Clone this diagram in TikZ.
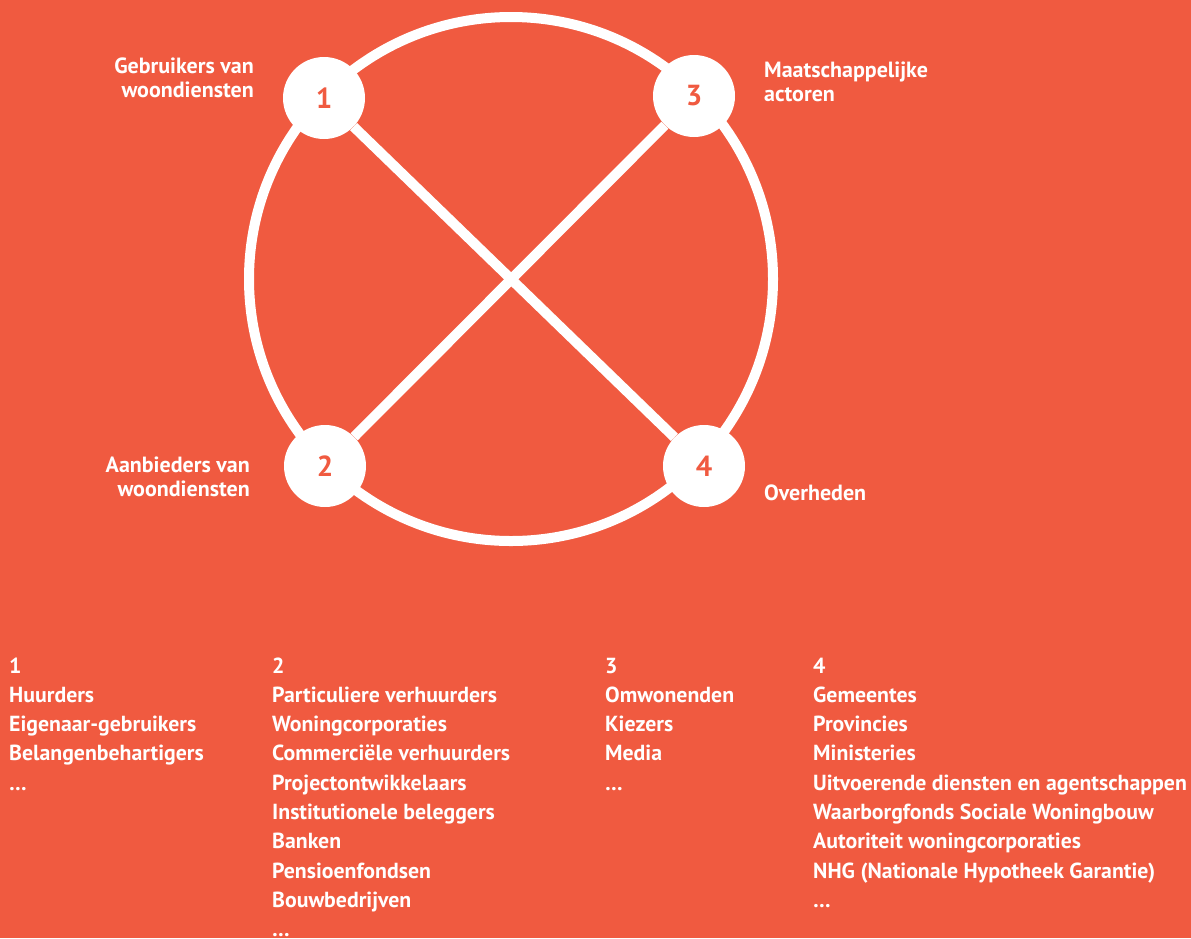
\documentclass[tikz,border=0pt]{standalone}
\usepackage{fontspec}
\setmainfont{PT Sans}
\definecolor{bg}{RGB}{240,90,64}
\begin{document}
\begin{tikzpicture}[x=1pt,y=-1pt,
  num/.style={circle, fill=white, minimum size=82pt, inner sep=0pt, text=bg, font=\fontsize{29}{30}\selectfont\bfseries},
  lbl/.style={text=white, font=\fontsize{22}{24}\selectfont\bfseries, inner sep=0pt},
  lst/.style={text=white, font=\fontsize{21.8}{29.3}\selectfont\bfseries, inner sep=0pt, align=left, anchor=base west},
  ring/.style={draw=white, line width=10pt},
  link/.style={draw=white, line width=10pt}]
\fill[bg] (0,0) rectangle (1191,938);
\useasboundingbox (0,0) rectangle (1191,938);
\draw[ring] (511,279) circle[radius=262pt];
\node[num] (n1) at (324,98) {1};
\node[num] (n3) at (694,96) {3};
\node[num] (n2) at (325,466) {2};
\node[num] (n4) at (704,466) {4};
\draw[link] (n1) -- (n4);
\draw[link] (n3) -- (n2);
\node[lbl, align=right, anchor=base east] (l1) at (254,97) {Gebruikers van\\woondiensten};
\node[lbl, align=left, anchor=base west] (l3) at (764,101) {Maatschappelijke\\actoren};
\node[lbl, align=right, anchor=base east] (l2) at (250,496) {Aanbieders van\\woondiensten};
\node[lbl, align=left, anchor=base west] (l4) at (764,500) {Overheden};
\node[lst] (c1) at (9,790.2) {1\\Huurders\\Eigenaar-gebruikers\\Belangenbehartigers\\…};
\node[lst] (c2) at (272,936.7) {2\\Particuliere verhuurders\\Woningcorporaties\\Commerciële verhuurders\\Projectontwikkelaars\\Institutionele beleggers\\Banken\\Pensioenfondsen\\Bouwbedrijven\\…};
\node[lst] (c3) at (605,790.2) {3\\Omwonenden\\Kiezers\\Media\\…};
\node[lst] (c4) at (813,907.4) {4\\Gemeentes\\Provincies\\Ministeries\\Uitvoerende diensten en agentschappen\\Waarborgfonds Sociale Woningbouw\\Autoriteit woningcorporaties\\NHG (Nationale Hypotheek Garantie)\\…};
\end{tikzpicture}
\end{document}
